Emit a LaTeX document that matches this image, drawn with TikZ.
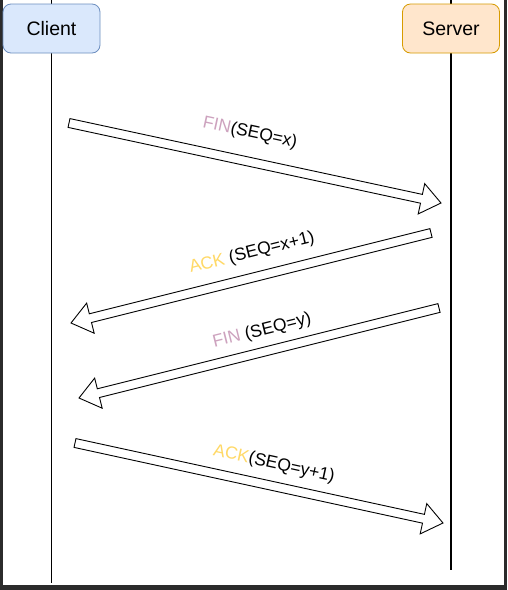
\documentclass[tikz,border=0pt]{standalone}
\usepackage{fontspec}
\setmainfont{Liberation Sans}
\usetikzlibrary{calc}
\definecolor{framegray}{HTML}{2B2B2B}
\definecolor{clientfill}{HTML}{DAE8FC}
\definecolor{clientline}{HTML}{6C8EBF}
\definecolor{serverfill}{HTML}{FFE6CC}
\definecolor{serverline}{HTML}{D79B00}
\definecolor{finpink}{HTML}{CDA2BE}
\definecolor{ackyellow}{HTML}{FFD966}
\newcommand{\blockarrow}[3]{%
  \coordinate (#3n) at ($(#2)!20pt!(#1)$);
  \draw[flexarr] ($(#1)!4.5pt!90:(#2)$) -- ($(#3n)!4.5pt!90:(#2)$) -- ($(#3n)!15.5pt!90:(#2)$) -- (#2)
    -- ($(#3n)!15.5pt!-90:(#2)$) -- ($(#3n)!4.5pt!-90:(#2)$) -- ($(#1)!4.5pt!-90:(#2)$) -- cycle;}
\begin{document}
\begin{tikzpicture}[x=1pt,y=-1pt,
  actor/.style={draw, rounded corners=8pt, line width=0.8pt, minimum width=97pt, minimum height=49pt,
    font=\fontsize{19.5}{23}\selectfont, inner sep=0pt},
  lifeline/.style={line width=1.5pt},
  flexarr/.style={draw=black, fill=white, line width=0.9pt, line join=miter},
  msg/.style={font=\fontsize{17.5}{20}\selectfont, inner sep=0pt}]
\fill[framegray] (0,0) rectangle (507,590);
\fill[white] (2.5,0) rectangle (504,585);
\useasboundingbox (0,0) rectangle (507,590);
% lifelines
\coordinate (ctop) at (51.5,0);
\coordinate (cbot) at (51.5,583);
\coordinate (stop) at (451,0);
\coordinate (sbot) at (451,570);
\draw[lifeline] (ctop) -- (cbot);
\draw[lifeline] (stop) -- (sbot);
% actors
\node[actor, fill=clientfill, draw=clientline] (client) at (51.5,28.5) {Client};
\node[actor, fill=serverfill, draw=serverline] (server) at (451,28.5) {Server};
% messages
\coordinate (m1s) at (69,123);  \coordinate (m1e) at (441,203);
\coordinate (m2s) at (431,233); \coordinate (m2e) at (71,323);
\coordinate (m3s) at (439,308); \coordinate (m3e) at (79,398);
\coordinate (m4s) at (75,443);  \coordinate (m4e) at (443,523);
\blockarrow{m1s}{m1e}{a1}
\blockarrow{m2s}{m2e}{a2}
\blockarrow{m3s}{m3e}{a3}
\blockarrow{m4s}{m4e}{a4}
\node[msg, rotate=-12.1] (l1) at (250,133) {{\color{finpink}FIN}(SEQ=x)};
\node[msg, rotate=14] (l2) at (252,253) {{\color{ackyellow}ACK} (SEQ=x+1)};
\node[msg, rotate=14] (l3) at (262,331) {{\color{finpink}FIN} (SEQ=y)};
\node[msg, rotate=-12.3] (l4) at (274,464) {{\color{ackyellow}ACK}(SEQ=y+1)};
\end{tikzpicture}
\end{document}
